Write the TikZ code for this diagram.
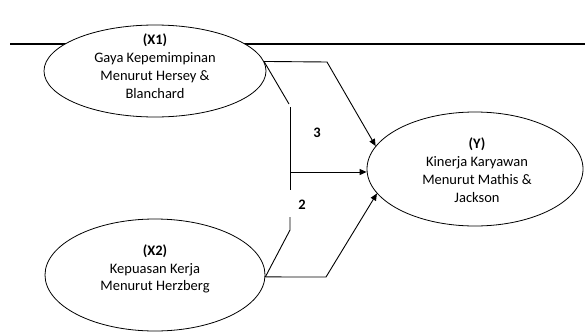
\documentclass[tikz,border=0pt]{standalone}
\usepackage{fontspec}
\setmainfont{Carlito}
\usetikzlibrary{shapes.geometric,arrows.meta}
\begin{document}
\begin{tikzpicture}[x=1pt,y=-1pt,
  ell/.style={ellipse,draw,fill=white,line width=0.8pt,inner sep=0pt},
  lbl/.style={align=center,font=\fontsize{14.5}{17.8}\selectfont,inner sep=0pt},
  num/.style={font=\fontsize{14.5}{17.8}\selectfont\bfseries,inner sep=0pt},
  conn/.style={line width=0.9pt},
  arr/.style={conn,-{Triangle[length=7pt,width=6pt]}}]
\useasboundingbox (0,0) rectangle (585,332);
\coordinate (tl) at (10,44);
\coordinate (tr) at (586,44);
\draw[line width=1.4pt] (tl) -- (tr);
\node[ell,minimum width=222pt,minimum height=92pt] (x1) at (155,71) {};
\node[ell,minimum width=220pt,minimum height=112pt] (x2) at (155,275) {};
\node[ell,minimum width=216pt,minimum height=114pt] (y) at (475,169) {};
\node[lbl] (x1t) at (155,66) {\textbf{(X1)}\\Gaya Kepemimpinan\\Menurut Hersey \&\\Blanchard};
\node[lbl] (x2t) at (155,269) {\textbf{(X2)}\\Kepuasan Kerja\\Menurut Herzberg};
\node[lbl] (yt) at (477,170) {\textbf{(Y)}\\Kinerja Karyawan\\Menurut Mathis \&\\Jackson};
\coordinate (a1) at (327,62);
\coordinate (d1) at (289,104);
\coordinate (v1) at (290,107);
\coordinate (v2) at (290,190);
\coordinate (v3) at (290,217);
\coordinate (v4) at (290,230);
\coordinate (hm) at (290,172);
\coordinate (b1) at (326,277);
\draw[arr] (x1.5) -- (a1) -- (y.167);
\draw[conn] (x1.5) -- (d1);
\draw[conn] (v1) -- (v2);
\draw[conn] (v3) -- (v4) -- (x2.-1);
\draw[arr] (hm) -- (y.west |- hm);
\draw[arr] (x2.-1) -- (b1) -- (y.194);
\node[num] (n3) at (317,133) {3};
\node[num] (n2) at (302,205) {2};
\end{tikzpicture}
\end{document}
